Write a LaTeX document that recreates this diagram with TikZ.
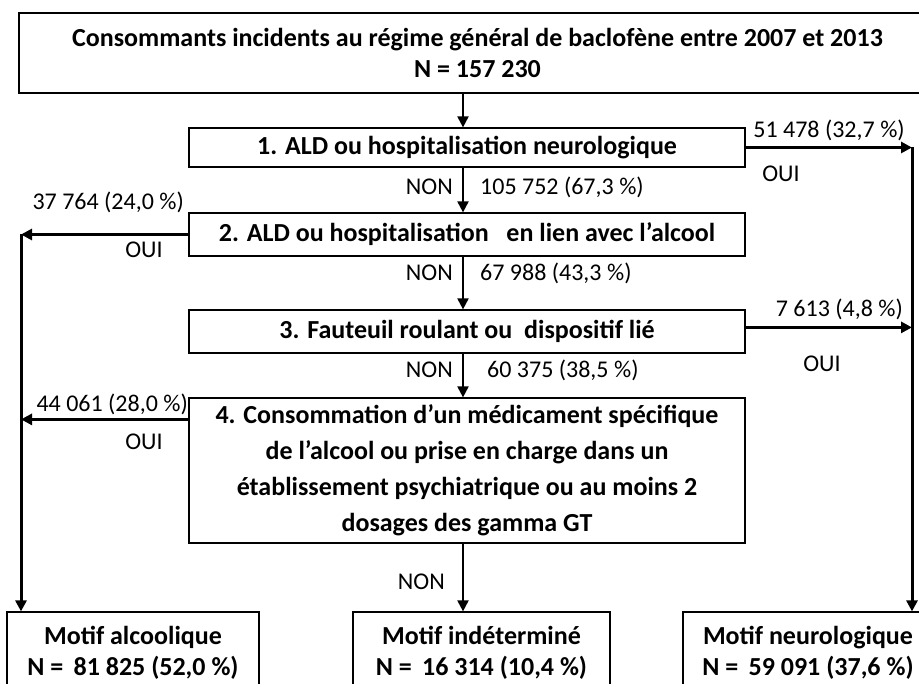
\documentclass[tikz,border=0pt]{standalone}
\usepackage{fontspec}
\setmainfont{Carlito}
\usetikzlibrary{arrows.meta, calc, positioning}

\begin{document}
\begin{tikzpicture}[
        x=1pt, y=-1pt,
        box/.style={draw, line width=1.2pt, align=center, inner sep=0pt,
            font=\fontsize{26}{31}\selectfont\bfseries},
        lbl/.style={inner sep=0pt, font=\fontsize{24}{28}\selectfont},
        non/.style={line width=2pt, -{Triangle[length=11pt, width=11pt]}},
        oui/.style={line width=3pt, -{Triangle[length=11pt, width=11pt]}}
    ]
    \useasboundingbox (0,0) rectangle (919,684);
    \clip (0,0) rectangle (919,684);

    % main column and the two side rails
    \coordinate (spine) at (463,0);
    \coordinate (lrail) at (21,0);
    \coordinate (rrail) at (912,0);

    % boxes
    \node[box, minimum width=917pt, minimum height=80pt] (top) at (477.5,53)
        {Consommants incidents au régime général de baclofène entre 2007 et 2013\\N = 157 230};
    \node[box, minimum width=556pt, minimum height=39pt] (q1) at (467,147.5)
        {1. ALD ou hospitalisation neurologique};
    \node[box, minimum width=556pt, minimum height=43pt] (q2) at (467,234.5)
        {2. ALD ou hospitalisation \ \ en lien avec l’alcool};
    \node[box, minimum width=556pt, minimum height=43pt] (q3) at (467,331.5)
        {3. Fauteuil roulant ou \ dispositif lié};
    \node[box, minimum width=556pt, minimum height=145pt,
        font=\fontsize{26}{36}\selectfont\bfseries] (q4) at (467,470.5)
        {4. Consommation d’un médicament spécifique\\de l’alcool ou prise en charge dans un\\établissement psychiatrique ou au moins 2\\dosages des gamma GT};

    % outcomes (cut by the page bottom)
    \node[box, minimum width=252pt, minimum height=82pt] (alc) at (133,653)
        {Motif alcoolique\\N = \,81 825 (52,0 \%)};
    \node[box, minimum width=257pt, minimum height=82pt] (ind) at (481.5,653)
        {Motif indéterminé\\N = \,16 314 (10,4 \%)};
    \node[box, minimum width=250pt, minimum height=82pt] (neu) at (808,653)
        {Motif neurologique\\N = \,59 091 (37,6 \%)};

    % NON path
    \draw[non] (top.south -| spine) -- (q1.north -| spine);
    \draw[non] (q1.south -| spine) -- (q2.north -| spine);
    \draw[non] (q2.south -| spine) -- (q3.north -| spine);
    \draw[non] (q3.south -| spine) -- (q4.north -| spine);
    \draw[non] (q4.south -| spine) -- (ind.north -| spine);

    % OUI to the right
    \coordinate (q3out) at ($(q3.north east)+(0,18)$);
    \draw[oui] (q1.east) -- (q1.east -| rrail);
    \draw[oui] (q3out) -- (q3out -| rrail);
    \draw[oui] (q1.east -| rrail) -- (neu.north -| rrail);

    % OUI to the left
    \coordinate (q4out) at ($(q4.north west)+(0,22)$);
    \draw[oui] (q2.west) -- (q2.west -| lrail);
    \draw[oui] (q4out) -- (q4out -| lrail);
    \draw[oui] (q2.west -| lrail) -- (alc.north -| lrail);

    % labels
    \node[lbl, anchor=east] (non1) at (453,187) {NON};
    \node[lbl, anchor=west] (n1) at (480,187) {105 752 (67,3 \%)};
    \node[lbl, anchor=east] (non2) at (453,273) {NON};
    \node[lbl, anchor=west] (n2) at (480,273) {67 988 (43,3 \%)};
    \node[lbl, anchor=east] (non3) at (453,370) {NON};
    \node[lbl, anchor=west] (n3) at (487,370) {60 375 (38,5 \%)};
    \node[lbl, anchor=east] (non4) at (445,582) {NON};

    \node[lbl] (y1) at (829,130) {51 478 (32,7 \%)};
    \node[lbl] (oui1) at (781,174) {OUI};
    \node[lbl, anchor=east] (y3) at (903,309) {7 613 (4,8 \%)};
    \node[lbl] (oui3) at (822,364) {OUI};

    \node[lbl, anchor=east] (y2) at (184,202) {37 764 (24,0 \%)};
    \node[lbl] (oui2) at (144,250) {OUI};
    \node[lbl, anchor=east] (y4) at (188,404) {44 061 (28,0 \%)};
    \node[lbl] (oui4) at (144,442) {OUI};
\end{tikzpicture}
\end{document}
